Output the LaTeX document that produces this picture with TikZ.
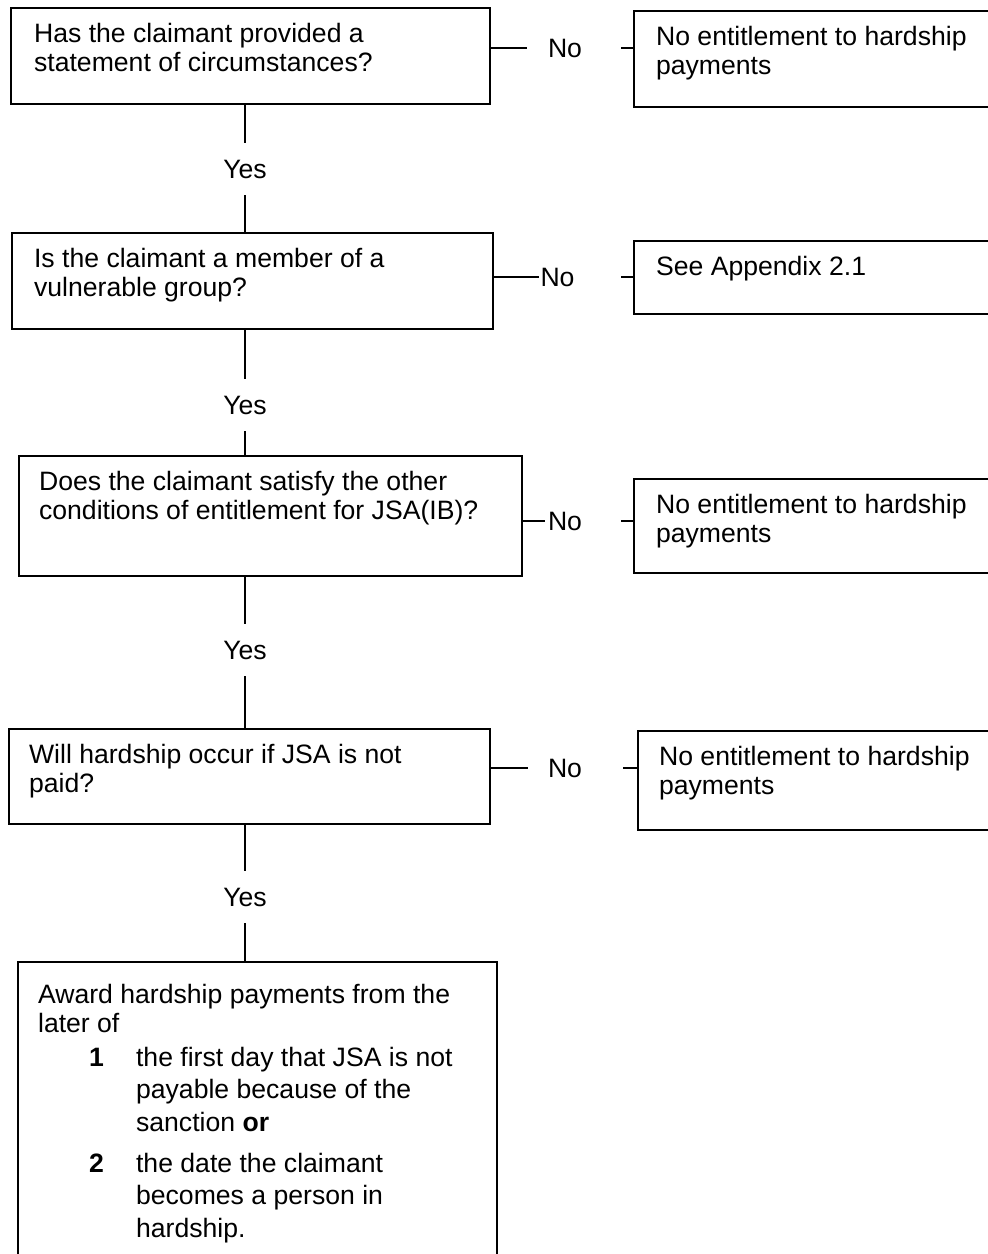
\documentclass[tikz,border=0pt]{standalone}
\usepackage{fontspec}
\setmainfont{Liberation Sans}
\newcommand\bxt[4]{\parbox[t][#2pt][t]{#1pt}{\raggedright\leftskip=#3pt\relax\vspace*{15pt}#4\par}}
\begin{document}
\begin{tikzpicture}[x=1pt,y=-1pt,
  every node/.style={font=\fontsize{26.6}{29}\selectfont},
  box/.style={draw, line width=2.2pt, anchor=north west, inner sep=0pt},
  conn/.style={line width=1.8pt},
  lbl/.style={inner sep=0pt, text height=19pt, text depth=0pt},
  yeslbl/.style={lbl, minimum height=52pt},
]
\useasboundingbox (0,0) rectangle (988,1254);
\clip (0,0) rectangle (988,1254);

% question boxes
\node[box] (q1) at (10,7) {\bxt{479}{96}{23}{Has the claimant provided a\\statement of circumstances?}};
\node[box] (q2) at (11,232) {\bxt{481}{96}{22}{Is the claimant a member of a\\vulnerable group?}};
\node[box] (q3) at (18,455) {\bxt{503}{120}{20}{Does the claimant satisfy the other\\conditions of entitlement for JSA(IB)?}};
\node[box] (q4) at (8,728) {\bxt{481}{95}{20}{Will hardship occur if JSA is not\\paid?}};
\node[box] (q5) at (17,961) {\parbox[t][320pt][t]{479pt}{\fontsize{26.6}{29}\selectfont\raggedright\leftskip=20pt\relax\vspace*{22pt}Award hardship payments from the\\later of\par
\fontsize{26.6}{32.5}\selectfont\vspace{1.5pt}%
\leftskip=118pt\relax\leavevmode\llap{\makebox[47pt][l]{\bfseries 1}}the first day that JSA is not\\payable because of the\\sanction \textbf{or}\par
\vspace{8.5pt}\leavevmode\llap{\makebox[47pt][l]{\bfseries 2}}the date the claimant\\becomes a person in\\hardship.\par}};

% result boxes
\node[box] (r1) at (633,10) {\bxt{380}{96}{22}{No entitlement to hardship\\payments}};
\node[box] (r2) at (633,240) {\bxt{380}{73}{22}{See Appendix 2.1}};
\node[box] (r3) at (633,478) {\bxt{380}{94}{22}{No entitlement to hardship\\payments}};
\node[box] (r4) at (637,730) {\bxt{380}{99}{21}{No entitlement to hardship\\payments}};

% No labels
\node[lbl] (n1) at (565,48) {No};
\node[lbl] (n2) at (557.5,277) {No};
\node[lbl] (n3) at (565,521) {No};
\node[lbl] (n4) at (565,768) {No};

\draw[conn] (q1.east |- n1) -- ([xshift=-21pt]n1.west);
\draw[conn] (r1.west |- n1) -- ++(-12,0);
\draw[conn] (q2.east |- n2) -- ([xshift=-1pt]n2.west);
\draw[conn] (r2.west |- n2) -- ++(-12,0);
\draw[conn] (q3.east |- n3) -- ([xshift=-3pt]n3.west);
\draw[conn] (r3.west |- n3) -- ++(-12,0);
\draw[conn] (q4.east |- n4) -- ([xshift=-20pt]n4.west);
\draw[conn] (r4.west |- n4) -- ++(-14,0);

% Yes labels
\node[yeslbl] (y1) at (245,169) {Yes};
\node[yeslbl] (y2) at (245,405) {Yes};
\node[yeslbl] (y3) at (245,650) {Yes};
\node[yeslbl] (y4) at (245,897) {Yes};

\draw[conn] (y1.north |- q1.south) -- (y1.north);
\draw[conn] (y1.south) -- (y1.south |- q2.north);
\draw[conn] (y2.north |- q2.south) -- (y2.north);
\draw[conn] (y2.south) -- (y2.south |- q3.north);
\draw[conn] (y3.north |- q3.south) -- (y3.north);
\draw[conn] (y3.south) -- (y3.south |- q4.north);
\draw[conn] (y4.north |- q4.south) -- (y4.north);
\draw[conn] (y4.south) -- (y4.south |- q5.north);
\end{tikzpicture}
\end{document}
